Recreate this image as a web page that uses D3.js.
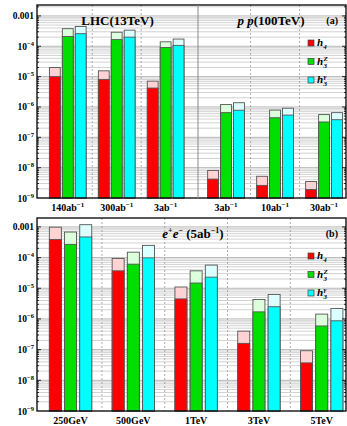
<!DOCTYPE html>
<html>
<head>
<meta charset="utf-8">
<script src="https://cdn.jsdelivr.net/npm/d3@7"></script>
<style>
	body { margin: 0; background: #fff; }
	text { font-family: "Liberation Serif", "DejaVu Serif", serif; font-weight: bold; }
</style>
</head>
<body>
<svg id="svg-main" width="347" height="426"></svg>
<script>
// 数据
var series = ["h4", "h3Z", "h3G"];
var topLhcLabels = ["140ab", "300ab", "3ab"];
var topPpLabels = ["3ab", "10ab", "30ab"];
var topLow = {
	h4: [1.0e-5, 8.1e-6, 4.2e-6, 4.2e-9, 2.6e-9, 1.9e-9],
	h3Z: [2.1e-4, 1.66e-4, 9.1e-5, 6.5e-7, 4.4e-7, 3.2e-7],
	h3G: [2.6e-4, 2.0e-4, 1.07e-4, 7.8e-7, 5.4e-7, 3.8e-7]
};
var topHigh = {
	h4: [2.0e-5, 1.55e-5, 7.1e-6, 8.1e-9, 5.2e-9, 3.5e-9],
	h3Z: [3.8e-4, 2.9e-4, 1.4e-4, 1.2e-6, 7.9e-7, 5.6e-7],
	h3G: [4.5e-4, 3.4e-4, 1.73e-4, 1.38e-6, 9.1e-7, 6.5e-7]
};
var eeLabels = ["250GeV", "500GeV", "1TeV", "3TeV", "5TeV"];
var eeLow = {
	h4: [3.9e-4, 3.7e-5, 4.5e-6, 1.6e-7, 3.7e-8],
	h3Z: [2.7e-4, 6.1e-5, 1.48e-5, 1.7e-6, 5.9e-7],
	h3G: [4.7e-4, 9.8e-5, 2.3e-5, 2.5e-6, 8.7e-7]
};
var eeHigh = {
	h4: [9.8e-4, 9.3e-5, 1.1e-5, 4.0e-7, 9.2e-8],
	h3Z: [6.8e-4, 1.5e-4, 3.7e-5, 4.3e-6, 1.44e-6],
	h3G: [1.18e-3, 2.5e-4, 5.7e-5, 6.3e-6, 2.2e-6]
};
var yTicks = [-9, -8, -7, -6, -5, -4, -3];

var colors = { h4: "#ff0000", h3Z: "#00e000", h3G: "#00ffff" };
var lightColors = { h4: "#ffd3d3", h3Z: "#dcffdc", h3G: "#dcffff" };

var svg = d3.select("#svg-main");
var left = 37, right = 346;

function drawPanel(top, bottom, yMaxExp, groups, label) {
	var g = svg.append("g");
	var y = d3.scaleLog().domain([1e-9, Math.pow(10, yMaxExp)]).range([bottom, top]);

	// 背景网格
	var grid = [];
	for(var e = -9; e <= -3; e++) {
		for(var k = 1; k <= 9; k++) {
			var v = k * Math.pow(10, e);
			if(v > 1e-9 && v < Math.pow(10, yMaxExp)) grid.push(v);
		}
	}
	g.selectAll(".grid").data(grid).enter().append("line")
		.attr("x1", left).attr("x2", right)
		.attr("y1", function(d) { return y(d); })
		.attr("y2", function(d) { return y(d); })
		.attr("stroke", function(d) { return Math.abs(Math.log10(d) % 1) < 1e-9 ? "#b8b8b8" : "#d2d2d2"; })
		.attr("stroke-width", 1);

	// 分组
	groups.forEach(function(grp) {
		var x0 = d3.scaleBand().domain(d3.range(grp.labels.length))
			.range([grp.x0, grp.x1]).paddingInner(grp.pi).paddingOuter(grp.po).align(grp.align);
		var x1 = d3.scaleBand().domain(series).range([0, x0.bandwidth()]).paddingInner(grp.bp);

		// 分隔虚线
		var seps = d3.range(1, grp.labels.length);
		g.selectAll(null).data(seps).enter().append("line")
			.attr("x1", function(i) { return x0(i) - x0.step() * x0.paddingInner() / 2; })
			.attr("x2", function(i) { return x0(i) - x0.step() * x0.paddingInner() / 2; })
			.attr("y1", top).attr("y2", bottom)
			.attr("stroke", "#999").attr("stroke-width", 0.8).attr("stroke-dasharray", "2,2");

		grp.labels.forEach(function(lab, i) {
			var gi = grp.offset + i;
			series.forEach(function(s) {
				var bx = x0(i) + x1(s);
				g.append("rect")
					.attr("x", bx).attr("width", x1.bandwidth())
					.attr("y", y(grp.high[s][gi])).attr("height", bottom - y(grp.high[s][gi]))
					.attr("fill", lightColors[s]).attr("stroke", "#555").attr("stroke-width", 0.9);
				g.append("rect")
					.attr("x", bx).attr("width", x1.bandwidth())
					.attr("y", y(grp.low[s][gi])).attr("height", bottom - y(grp.low[s][gi]))
					.attr("fill", colors[s]).attr("stroke", "#555").attr("stroke-width", 0.9);
			});
			var t = g.append("text")
				.attr("x", x0(i) + x0.bandwidth() / 2).attr("y", bottom + 13)
				.attr("text-anchor", "middle").attr("font-size", 10);
			t.append("tspan").text(lab);
			if(grp.sup) {
				t.append("tspan").attr("dy", -4).attr("font-size", 7).text("−1");
			}
		});
	});

	// 坐标框
	g.append("rect").attr("x", left).attr("y", top).attr("width", right - left).attr("height", bottom - top)
		.attr("fill", "none").attr("stroke", "#000").attr("stroke-width", 1.3);

	// 刻度
	var minor = grid.filter(function(d) { return d >= 1e-9; });
	g.selectAll(null).data(minor).enter().append("line")
		.attr("x1", left).attr("x2", function(d) { return left + (Math.abs(Math.log10(d) % 1) < 1e-9 ? 4 : 2); })
		.attr("y1", function(d) { return y(d); }).attr("y2", function(d) { return y(d); })
		.attr("stroke", "#000").attr("stroke-width", 0.8);
	g.selectAll(null).data(minor).enter().append("line")
		.attr("x1", right).attr("x2", function(d) { return right - (Math.abs(Math.log10(d) % 1) < 1e-9 ? 4 : 2); })
		.attr("y1", function(d) { return y(d); }).attr("y2", function(d) { return y(d); })
		.attr("stroke", "#000").attr("stroke-width", 0.8);

	yTicks.forEach(function(e) {
		var t = g.append("text").attr("x", 34).attr("y", y(Math.pow(10, e)) + 3.5)
			.attr("text-anchor", "end").attr("font-size", 9.5);
		if(e == -3) {
			t.text("0.001");
		} else {
			t.append("tspan").text("10");
			t.append("tspan").attr("dy", -4).attr("font-size", 6.5).text("−" + (-e));
		}
	});

	// 图例
	var lx = right - 38, ly = top + 38;
	series.forEach(function(s, i) {
		var yy = ly + i * 18.5;
		g.append("rect").attr("x", lx).attr("y", yy - 3).attr("width", 6).attr("height", 6)
			.attr("fill", colors[s]).attr("stroke", "#444").attr("stroke-width", 0.7);
		var t = g.append("text").attr("x", lx + 9).attr("y", yy + 3).attr("font-size", 11)
			.attr("font-style", "italic");
		t.append("tspan").text("h");
		if(s == "h4") {
			t.append("tspan").attr("dy", 2.5).attr("font-size", 7).text("4");
		} else {
			g.append("text").attr("x", lx + 15.5).attr("y", yy + 6).attr("font-size", 7)
				.attr("font-style", "italic").text("3");
			g.append("text").attr("x", lx + 15.5).attr("y", yy - 1).attr("font-size", 7)
				.attr("font-style", "italic").text(s == "h3Z" ? "Z" : "γ");
		}
	});

	g.append("text").attr("x", right - 8).attr("y", top + 19).attr("text-anchor", "end")
		.attr("font-size", 10).text(label);
	return { g: g, y: y };
}

// (a)
var pa = drawPanel(5, 198, -2.64, [
	{ labels: topLhcLabels, offset: 0, x0: left, x1: 198, pi: 0.25, po: 0.27, align: 0.47, bp: 0.16, sup: true, low: topLow, high: topHigh },
	{ labels: topPpLabels, offset: 3, x0: 198, x1: right, pi: 0.25, po: 0.135, align: 0.73, bp: 0.16, sup: true, low: topLow, high: topHigh }
], "(a)");
pa.g.append("line").attr("x1", 198).attr("x2", 198).attr("y1", 5).attr("y2", 198)
	.attr("stroke", "#888").attr("stroke-width", 1);
pa.g.append("text").attr("x", (left + 198) / 2).attr("y", 25).attr("text-anchor", "middle")
	.attr("font-size", 13).text("LHC(13TeV)");
var ppT = pa.g.append("text").attr("x", (198 + right) / 2 - 1).attr("y", 25).attr("text-anchor", "middle")
	.attr("font-size", 13);
ppT.append("tspan").attr("font-style", "italic").text("p p");
ppT.append("tspan").text("(100TeV)");

// (b)
var pb = drawPanel(218, 411, -2.71, [
	{ labels: eeLabels, offset: 0, x0: left, x1: right, pi: 0.325, po: 0.123, align: 0.8, bp: 0.21, sup: false, low: eeLow, high: eeHigh }
], "(b)");
var eeT = pb.g.append("text").attr("x", 193).attr("y", 238).attr("text-anchor", "middle").attr("font-size", 13);
eeT.append("tspan").attr("font-style", "italic").text("e");
eeT.append("tspan").attr("dy", -5).attr("font-size", 8).text("+");
eeT.append("tspan").attr("dy", 5).attr("font-style", "italic").text("e");
eeT.append("tspan").attr("dy", -5).attr("font-size", 8).text("−");
eeT.append("tspan").attr("dy", 5).text(" (5ab");
eeT.append("tspan").attr("dy", -5).attr("font-size", 8).text("−1");
eeT.append("tspan").attr("dy", 5).text(")");
</script>
</body>
</html>
